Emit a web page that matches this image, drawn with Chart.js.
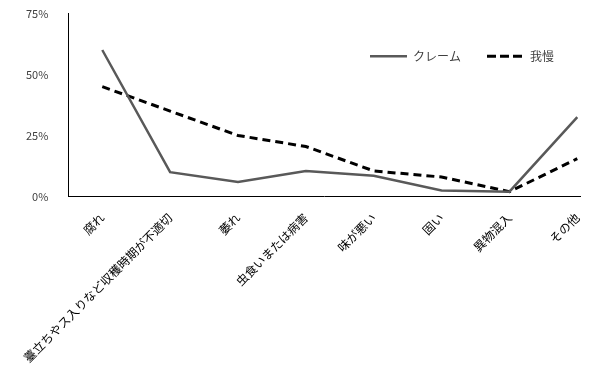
<!DOCTYPE html>
<html>
<head>
<meta charset="utf-8">
<script src="https://cdn.jsdelivr.net/npm/chart.js@4"></script>
<style>
  body { margin: 0; background: #fff; }
</style>
</head>
<body>
<canvas id="chart" width="607" height="371"></canvas>
<script>
const categories = ['腐れ', '薹立ちやス入りなど収穫時期が不適切', '萎れ', '虫食いまたは病害', '味が悪い', '固い', '異物混入', 'その他'];
const claimValues = [60, 10, 6, 10.5, 8.5, 2.5, 2, 32.5];
const gamanValues = [45, 35, 25, 20.5, 10.5, 8, 2, 15.5];
const yTicks = [0, 25, 50, 75];

const font = '"Noto Sans CJK JP", "Noto Sans", sans-serif';

// legend sits inside the plot, so it takes no room in the layout
const legendInside = {
  id: 'legendInside',
  beforeInit(chart) {
    const fit = chart.legend.fit;
    chart.legend.fit = function () {
      fit.call(this);
      this._fullHeight = this.height;
      this.height = 0;
    };
  },
  afterLayout(chart) {
    const lg = chart.legend;
    lg.bottom = lg.top + lg._fullHeight;
    lg.height = lg._fullHeight;
  }
};

const ctx = document.getElementById('chart').getContext('2d');
new Chart(ctx, {
  type: 'line',
  data: {
    datasets: [{
      label: 'クレーム',
      data: claimValues.map((v, i) => ({ x: i, y: v })),
      borderColor: '#595959',
      backgroundColor: '#595959',
      borderWidth: 2.5,
      pointRadius: 0,
      tension: 0
    }, {
      label: '我慢',
      data: gamanValues.map((v, i) => ({ x: i, y: v })),
      borderColor: '#000000',
      backgroundColor: '#000000',
      borderWidth: 3,
      borderDash: [8, 5],
      pointRadius: 0,
      tension: 0
    }]
  },
  options: {
    responsive: false,
    animation: false,
    layout: {
      padding: { left: 14, right: 27, top: -7, bottom: 0 }
    },
    scales: {
      x: {
        type: 'linear',
        min: -0.5,
        max: 7.04,
        afterBuildTicks: scale => {
          scale.ticks = categories.map((_, i) => ({ value: i }));
        },
        grid: { display: false },
        border: { display: true, color: '#000000', width: 1 },
        ticks: {
          autoSkip: false,
          minRotation: 45,
          maxRotation: 45,
          padding: 6,
          color: '#000000',
          font: { family: font, size: 12 },
          callback: value => categories[value] ?? ''
        }
      },
      y: {
        min: 0,
        max: 75,
        afterBuildTicks: scale => {
          scale.ticks = yTicks.map(v => ({ value: v }));
        },
        grid: { display: false },
        border: { display: true, color: '#000000', width: 1 },
        ticks: {
          padding: 12,
          color: '#404040',
          font: { family: font, size: 11, lineHeight: 0.25 },
          callback: value => value + '%'
        }
      }
    },
    plugins: {
      legend: {
        position: 'top',
        align: 'end',
        fullSize: false,
        title: { display: true, text: '', font: { size: 9 }, padding: 0 },
        labels: {
          boxWidth: 37,
          boxHeight: 0,
          padding: 26,
          color: '#404040',
          font: { family: font, size: 12 }
        }
      },
      tooltip: { enabled: false }
    }
  },
  plugins: [legendInside]
});
</script>
</body>
</html>
